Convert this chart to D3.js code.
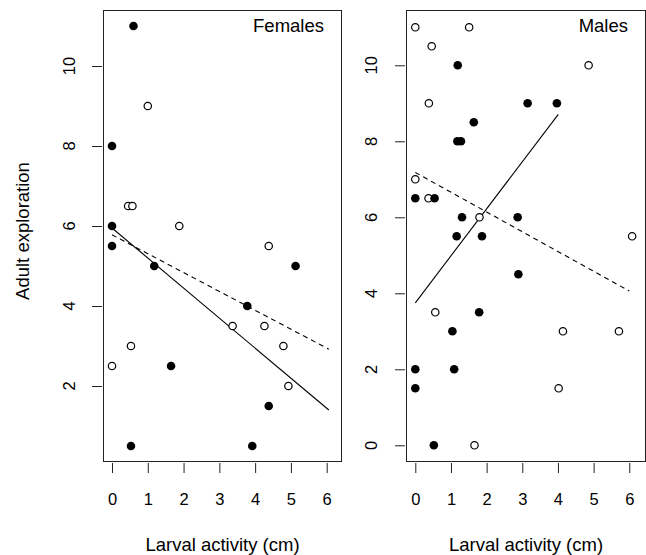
<!DOCTYPE html>
<html>
<head>
<meta charset="utf-8">
<script src="https://cdn.jsdelivr.net/npm/d3@7/dist/d3.min.js"></script>
<style>
  html, body { margin: 0; padding: 0; background: #fff; }
  svg { display: block; font-family: "Liberation Sans", Arial, sans-serif; }
</style>
</head>
<body>
<div id="chart"></div>
<script>
// tick labels
var xTicks = [ 0, 1, 2, 3, 4, 5, 6 ];
var femaleYTicks = [ 2, 4, 6, 8, 10 ];
var maleYTicks = [ 0, 2, 4, 6, 8, 10 ];

// points [larval activity, adult exploration]
var femaleFilled = [ [ 0.6, 11 ], [ 0, 8 ], [ 0, 6 ], [ 0, 5.5 ], [ 1.18, 5 ], [ 5.13, 5 ], [ 3.78, 4 ],
  [ 1.65, 2.5 ], [ 4.38, 1.5 ], [ 0.53, 0.5 ], [ 3.92, 0.5 ] ];
var femaleOpen = [ [ 1.0, 9 ], [ 0.45, 6.5 ], [ 0.57, 6.5 ], [ 1.88, 6 ], [ 4.38, 5.5 ], [ 3.37, 3.5 ],
  [ 4.26, 3.5 ], [ 0.53, 3 ], [ 4.79, 3 ], [ 0, 2.5 ], [ 4.93, 2 ] ];
var maleFilled = [ [ 1.19, 10 ], [ 3.15, 9 ], [ 3.97, 9 ], [ 1.64, 8.5 ], [ 1.18, 8 ], [ 1.28, 8 ], [ 0, 6.5 ],
  [ 0.54, 6.5 ], [ 1.31, 6 ], [ 2.87, 6 ], [ 1.16, 5.5 ], [ 1.87, 5.5 ], [ 2.89, 4.5 ], [ 1.79, 3.5 ],
  [ 1.04, 3 ], [ 0, 2 ], [ 1.09, 2 ], [ 0, 1.5 ], [ 0.52, 0 ] ];
var maleOpen = [ [ 0, 11 ], [ 1.51, 11 ], [ 0.46, 10.5 ], [ 4.86, 10 ], [ 0.38, 9 ], [ 0, 7 ], [ 0.37, 6.5 ],
  [ 1.8, 6 ], [ 6.08, 5.5 ], [ 0.56, 3.5 ], [ 4.14, 3 ], [ 5.71, 3 ], [ 4.02, 1.5 ], [ 1.66, 0 ] ];

// fitted lines (end points)
var femaleSolidLine = [ [ 0, 5.95 ], [ 6.06, 1.4 ] ];
var femaleDashedLine = [ [ 0, 5.78 ], [ 6.06, 2.92 ] ];
var maleSolidLine = [ [ 0, 3.75 ], [ 4.01, 8.71 ] ];
var maleDashedLine = [ [ 0, 7.18 ], [ 6.0, 4.06 ] ];

var width = 646, height = 555;

var svg = d3.select( "#chart" ).append( "svg" )
  .attr( "width", width )
  .attr( "height", height );

// panel layout
var panels = [
  {
    title: "Females", left: 103.5, right: 341.5, labelX: 75,
    xDomain: [ -0.238, 6.414 ], yDomain: [ 0.1125, 11.3875 ],
    yTicks: femaleYTicks, filled: femaleFilled, open: femaleOpen,
    solid: femaleSolidLine, dashed: femaleDashedLine
  },
  {
    title: "Males", left: 406.5, right: 645.5, labelX: 377,
    xDomain: [ -0.247, 6.455 ], yDomain: [ -0.426, 11.442 ],
    yTicks: maleYTicks, filled: maleFilled, open: maleOpen,
    solid: maleSolidLine, dashed: maleDashedLine
  }
];
var plotTop = 10.5, plotBottom = 461.5;

panels.forEach( drawPanel );

// y axis title
svg.append( "text" )
  .attr( "transform", "translate(28.5,231) rotate(-90)" )
  .attr( "text-anchor", "middle" )
  .attr( "font-size", "18.5px" )
  .text( "Adult exploration" );

function drawPanel( p ) {
  var x = d3.scaleLinear().domain( p.xDomain ).range( [ p.left, p.right ] );
  var y = d3.scaleLinear().domain( p.yDomain ).range( [ plotBottom, plotTop ] );

  // x axis: ticks only, a bit below the box
  var xAxis = svg.append( "g" )
    .attr( "transform", "translate(0," + ( plotBottom + 1.5 ) + ")" )
    .call( d3.axisBottom( x ).tickValues( xTicks ).tickSize( 10 ).tickFormat( d3.format( "d" ) ) );
  xAxis.select( ".domain" ).remove();
  xAxis.selectAll( "line" ).attr( "stroke", "#222" );
  xAxis.selectAll( "text" )
    .attr( "font-size", "16.5px" )
    .attr( "font-family", "Liberation Sans, Arial, sans-serif" )
    .attr( "fill", "#000" )
    .attr( "dy", 0 )
    .attr( "y", 505 - plotBottom - 1.5 );

  // y axis: ticks plus rotated labels
  var yAxis = svg.append( "g" )
    .attr( "transform", "translate(" + ( p.left - 1.5 ) + ",0)" )
    .call( d3.axisLeft( y ).tickValues( p.yTicks ).tickSize( 10 ).tickFormat( "" ) );
  yAxis.select( ".domain" ).remove();
  yAxis.selectAll( "line" ).attr( "stroke", "#222" );

  svg.append( "g" ).selectAll( "text" )
    .data( p.yTicks ).enter()
    .append( "text" )
    .attr( "transform", function ( d ) {
      return "translate(" + p.labelX + "," + y( d ) + ") rotate(-90)";
    } )
    .attr( "text-anchor", "middle" )
    .attr( "font-size", "16.5px" )
    .text( function ( d ) { return d; } );

  // box
  svg.append( "rect" )
    .attr( "x", p.left )
    .attr( "y", plotTop )
    .attr( "width", p.right - p.left )
    .attr( "height", plotBottom - plotTop )
    .attr( "fill", "none" )
    .attr( "stroke", "#222" )
    .attr( "stroke-width", 1 );

  // fitted lines
  var line = d3.line()
    .x( function ( d ) { return x( d[ 0 ] ); } )
    .y( function ( d ) { return y( d[ 1 ] ); } );
  svg.append( "path" )
    .attr( "d", line( p.solid ) )
    .attr( "fill", "none" )
    .attr( "stroke", "#000" )
    .attr( "stroke-width", 1.1 );
  svg.append( "path" )
    .attr( "d", line( p.dashed ) )
    .attr( "fill", "none" )
    .attr( "stroke", "#000" )
    .attr( "stroke-width", 1.1 )
    .attr( "stroke-dasharray", "5,4" );

  // points
  svg.append( "g" ).selectAll( "circle" )
    .data( p.open ).enter()
    .append( "circle" )
    .attr( "cx", function ( d ) { return x( d[ 0 ] ); } )
    .attr( "cy", function ( d ) { return y( d[ 1 ] ); } )
    .attr( "r", 3.7 )
    .attr( "fill", "#fff" )
    .attr( "stroke", "#000" )
    .attr( "stroke-width", 1.2 );
  svg.append( "g" ).selectAll( "circle" )
    .data( p.filled ).enter()
    .append( "circle" )
    .attr( "cx", function ( d ) { return x( d[ 0 ] ); } )
    .attr( "cy", function ( d ) { return y( d[ 1 ] ); } )
    .attr( "r", 4.3 )
    .attr( "fill", "#000" );

  // panel label
  svg.append( "text" )
    .attr( "x", p.right - 17.5 )
    .attr( "y", 31.5 )
    .attr( "text-anchor", "end" )
    .attr( "font-size", "18.5px" )
    .text( p.title );

  // x axis title
  svg.append( "text" )
    .attr( "x", ( p.left + p.right ) / 2 )
    .attr( "y", 551 )
    .attr( "text-anchor", "middle" )
    .attr( "font-size", "18.5px" )
    .text( "Larval activity (cm)" );
}
</script>
</body>
</html>
